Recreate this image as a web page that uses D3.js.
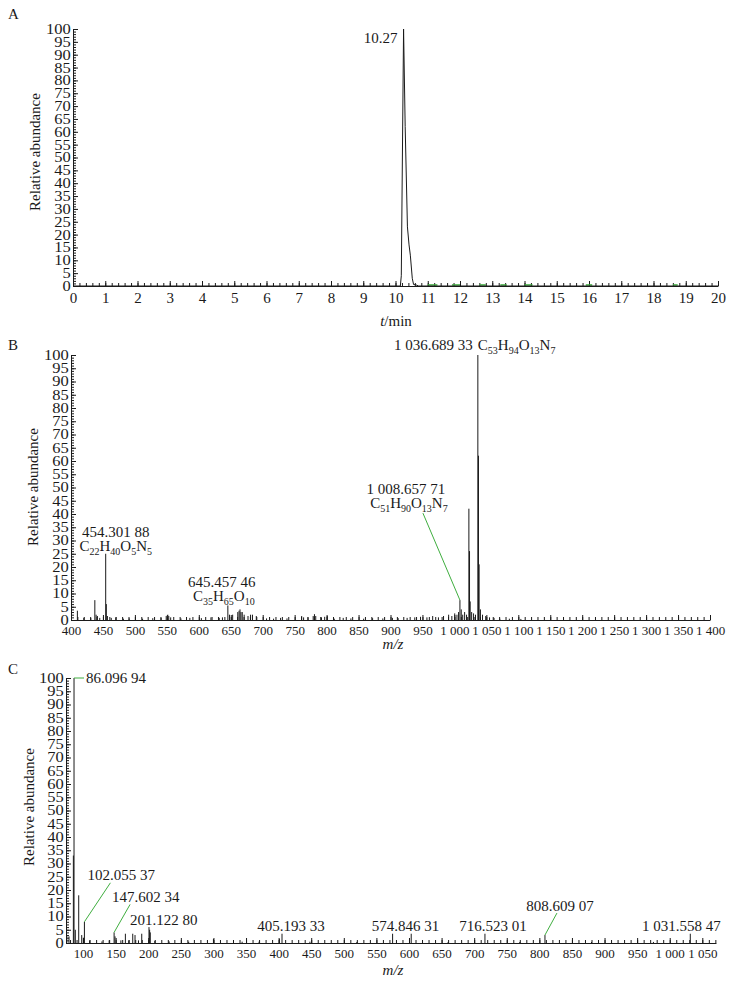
<!DOCTYPE html>
<html>
<head>
<meta charset="utf-8">
<script src="https://cdn.jsdelivr.net/npm/d3@7"></script>
<style>
body { margin: 0; background: #fff; }
svg { font-family: "Liberation Serif", "Times New Roman", serif; }
</style>
</head>
<body>
<script>
// ---- data ----

// panel A: total ion chromatogram
var chromTime  = [0, 10.15, 10.18, 10.25, 10.30, 10.37, 10.42, 10.46, 10.52, 10.56, 10.64, 10.72, 20];
var chromAbund = [0, 0, 4, 100, 62, 23, 16, 12, 3, 0.6, 0.4, 0, 0];
// short green traces lying on the baseline (start, end in min)
var greenStart = [11.0, 11.75, 12.6, 13.25, 14.0, 15.9, 18.6];
var greenEnd   = [11.3, 12.0, 12.8, 13.45, 14.25, 16.1, 18.75];
var peakTimeLabel = '10.27';
var peakTime = 10.25;

// panel B: full MS spectrum
var mzB = [410, 420, 431, 437.3, 439.3, 441.3, 445, 454.3, 455.3, 457, 463, 470, 482, 491, 512, 528, 541, 549,
  551.5, 553, 556, 572, 586, 604, 619, 632, 637, 645.46, 648, 653, 661, 663, 664.5, 666, 668, 671, 677, 681,
  684, 690, 706, 717, 728, 738, 761, 764, 771, 779, 781, 783, 792, 797, 801, 812, 826, 838, 858, 872, 888,
  903, 912, 926, 938, 947, 957, 966, 975, 983, 991, 996, 1000.5, 1004, 1006.5, 1008.66, 1010.7, 1013, 1016,
  1019, 1022.67, 1023.67, 1024.7, 1027, 1030, 1033, 1036.69, 1037.69, 1038.69, 1040.7, 1044, 1049, 1055,
  1062, 1071, 1086, 1104];
var abB = [3.5, 0.8, 0.7, 7.5, 2, 1.5, 0.8, 25, 6, 1.5, 0.8, 1, 0.5, 0.6, 0.5, 0.7, 0.8, 1.5,
  2, 1.5, 1, 0.6, 0.8, 0.7, 1, 0.8, 1, 5.5, 2, 2, 3, 3.5, 4, 3, 3, 2, 1.5, 2,
  2, 1.5, 0.6, 0.5, 0.8, 0.6, 1.5, 1, 1, 1.5, 2.2, 1.5, 1, 1.2, 1.5, 0.5, 0.8, 0.6, 0.5, 0.7, 0.6,
  0.8, 0.7, 0.8, 1, 1.2, 1, 1.5, 1, 1.5, 2, 1.5, 2.5, 2, 3, 7.5, 4, 2, 3,
  2, 42, 26, 7, 3, 2.5, 2, 100, 62, 21, 4, 2, 1.5, 1,
  0.8, 0.5, 0.5, 0.4];
var annBmz      = [454.3, 645.46, 1036.69, 1008.66];
var annBtext    = ['454.301 88', '645.457 46', '1 036.689 33', '1 008.657 71'];
var annBformula = ['C22H40O5N5', 'C35H65O10', 'C53H94O13N7', 'C51H90O13N7'];

// panel C: MS/MS spectrum
var mzC = [75, 78.4, 85.1, 86.1, 88.1, 93.3, 97.9, 100.4, 102.06, 110, 129, 140, 147.6, 149, 158, 164.9, 170,
  176.2, 179.7, 185, 190, 201.12, 202.1, 203.1, 210, 232, 262, 300, 344, 370, 401.2, 405.19, 448, 520,
  574.85, 603.4, 660, 716.52, 770, 808.61, 880, 975, 1031.56];
var abC = [3, 2.5, 33, 100, 5, 18, 3, 2, 8, 1, 0.6, 1, 4, 2.5, 1, 3.5, 1,
  3.5, 3, 1, 3.5, 6, 5, 4, 0.8, 0.6, 0.5, 1.5, 0.5, 0.5, 1.5, 3.5, 0.5, 0.4,
  3.5, 3.5, 0.4, 3.5, 0.4, 3, 0.4, 0.4, 3.5];
var annCmz   = [86.1, 102.06, 147.6, 201.12, 405.19, 574.85, 716.52, 808.61, 1031.56];
var annCtext = ['86.096 94', '102.055 37', '147.602 34', '201.122 80', '405.193 33', '574.846 31',
  '716.523 01', '808.609 07', '1 031.558 47'];

// tick values
var yMajorTicks = d3.range(0, 101, 5);
var yMinorTicks = d3.range(0, 101, 1);
var tMajorTicks = d3.range(0, 21, 1);
var tMinorTicks = d3.range(0, 100.5, 1).map(function(v) { return v / 5; });
var mzBMajor = d3.range(400, 1401, 50);
var mzBMinor = d3.range(400, 1401, 10);
var mzCMajor = d3.range(100, 1051, 50);
var mzCMinor = d3.range(80, 1071, 10);

// ---- drawing ----
var INK = '#1a1a1a';
var GREEN = '#3fae3f';

var svg = d3.select('body').append('svg')
  .attr('width', 740)
  .attr('height', 981);

// "1000" -> "1 000"
function spaced(v) {
  var s = String(v);
  return v >= 1000 ? s.slice(0, -3) + ' ' + s.slice(-3) : s;
}

// writes a chemical formula with subscripted counts into a text element
function formula(textSel, str) {
  var parts = str.match(/[A-Z][a-z]?|\d+/g);
  var sub = false;
  parts.forEach(function(p) {
    var isNum = /^\d+$/.test(p);
    var t = textSel.append('tspan').text(p);
    if (isNum) {
      t.attr('font-size', 10).attr('dy', sub ? 0 : 4);
      sub = true;
    } else {
      t.attr('font-size', 15).attr('dy', sub ? -4 : 0);
      sub = false;
    }
  });
}

// axes with ruler style ticks pointing into the plot
function frame(g, x, y, xMinor, xMajor, fmt, xFont) {
  var y0 = y(0), x0 = x.range()[0];

  g.append('g').attr('transform', 'translate(0,' + y0 + ')')
    .call(d3.axisBottom(x).tickValues(xMinor).tickSize(-3).tickSizeOuter(0).tickFormat(''))
    .call(function(s) { s.select('.domain').remove(); });
  var xa = g.append('g').attr('transform', 'translate(0,' + y0 + ')')
    .call(d3.axisBottom(x).tickValues(xMajor).tickSize(-5).tickSizeOuter(0).tickPadding(6).tickFormat(fmt));

  g.append('g').attr('transform', 'translate(' + x0 + ',0)')
    .call(d3.axisLeft(y).tickValues(yMinorTicks).tickSize(-3).tickSizeOuter(0).tickFormat(''))
    .call(function(s) { s.select('.domain').remove(); });
  var ya = g.append('g').attr('transform', 'translate(' + x0 + ',0)')
    .call(d3.axisLeft(y).tickValues(yMajorTicks).tickSize(-5).tickSizeOuter(0).tickPadding(2).tickFormat(d3.format('d')));

  g.selectAll('.domain, .tick line').attr('stroke', INK).attr('stroke-width', 1);
  g.selectAll('.tick text').attr('fill', INK)
    .attr('font-family', '"Liberation Serif", "Times New Roman", serif');
  xa.selectAll('.tick text').attr('font-size', xFont);
  // the printed y labels are a little wide for their height
  ya.selectAll('.tick text').attr('font-size', 14).attr('transform', 'scale(1.18,1)');
}

function yTitle(g, cx, cy) {
  g.append('text')
    .attr('transform', 'translate(' + cx + ',' + cy + ') rotate(-90)')
    .attr('text-anchor', 'middle')
    .attr('dominant-baseline', 'middle')
    .attr('font-size', 15).attr('fill', INK)
    .text('Relative abundance');
}

function xTitle(g, cx, by, italicPart, rest) {
  var t = g.append('text')
    .attr('x', cx).attr('y', by)
    .attr('text-anchor', 'middle')
    .attr('font-size', 15).attr('fill', INK);
  t.append('tspan').attr('font-style', 'italic').text(italicPart);
  t.append('tspan').text(rest);
}

function letter(txt, by) {
  svg.append('text').attr('x', 8).attr('y', by)
    .attr('font-size', 15).attr('fill', INK).text(txt);
}

function sticks(g, x, y, mz, ab) {
  g.append('g').selectAll('line')
    .data(d3.zip(mz, ab))
    .join('line')
      .attr('x1', function(d) { return x(d[0]); })
      .attr('x2', function(d) { return x(d[0]); })
      .attr('y1', y(0))
      .attr('y2', function(d) { return y(d[1]); })
      .attr('stroke', INK)
      .attr('stroke-width', 1);
}

function leader(g, x1, y1, x2, y2) {
  g.append('line')
    .attr('x1', x1).attr('y1', y1).attr('x2', x2).attr('y2', y2)
    .attr('stroke', GREEN).attr('stroke-width', 1);
}

/////////// PANEL A //////////
(function() {
  var g = svg.append('g');
  var x = d3.scaleLinear().domain([0, 20]).range([73, 718]);
  var y = d3.scaleLinear().domain([0, 100]).range([286, 29]);

  frame(g, x, y, tMinorTicks, tMajorTicks, d3.format('d'), 15);

  var line = d3.line()
    .x(function(d) { return x(d[0]); })
    .y(function(d) { return y(d[1]); });

  g.append('g').selectAll('line')
    .data(d3.zip(greenStart, greenEnd))
    .join('line')
      .attr('x1', function(d) { return x(d[0]); })
      .attr('x2', function(d) { return x(d[1]); })
      .attr('y1', y(0.4)).attr('y2', y(0.4))
      .attr('stroke', GREEN).attr('stroke-width', 1.5);

  g.append('path')
    .datum(d3.zip(chromTime, chromAbund))
    .attr('d', line)
    .attr('fill', 'none')
    .attr('stroke', INK)
    .attr('stroke-width', 1);

  g.append('text')
    .attr('x', x(peakTime) - 6).attr('y', y(100) + 14)
    .attr('text-anchor', 'end')
    .attr('font-size', 15).attr('fill', INK)
    .text(peakTimeLabel);

  yTitle(g, 37, 152);
  xTitle(g, 396, 326, 't', '/min');
  letter('A', 19);
})();

/////////// PANEL B //////////
(function() {
  var g = svg.append('g');
  var x = d3.scaleLinear().domain([400, 1400]).range([71, 710]);
  var y = d3.scaleLinear().domain([0, 100]).range([620, 355]);

  frame(g, x, y, mzBMinor, mzBMajor, spaced, 13);
  sticks(g, x, y, mzB, abB);

  // label placement: [number dx, number dy, formula dx, formula dy, anchor] relative to peak top
  var place = [
    [10, -17, 10, -3, 'middle'],
    [-6, -18, -4, -4, 'middle'],
    [-5, -5, 0, -5, 'inline'],
    [-54, -106, -51, -92, 'middle']
  ];

  annBmz.forEach(function(m, i) {
    var px = x(m), py = y(abB[mzB.indexOf(m)]);
    var p = place[i];
    g.append('text')
      .attr('x', px + p[0]).attr('y', py + p[1])
      .attr('font-size', 15).attr('fill', INK)
      .attr('text-anchor', p[4] == 'inline' ? 'end' : 'middle')
      .text(annBtext[i]);
    var f = g.append('text')
      .attr('x', px + p[2]).attr('y', py + p[3])
      .attr('font-size', 15).attr('fill', INK)
      .attr('text-anchor', p[4] == 'inline' ? 'start' : 'middle');
    formula(f, annBformula[i]);
    if (i == 3) leader(g, px - 37, py - 87, px, py);
  });

  yTitle(g, 35, 487);
  xTitle(g, 393, 649, 'm/z', '');
  letter('B', 350);
})();

/////////// PANEL C //////////
(function() {
  var g = svg.append('g');
  var x = d3.scaleLinear().domain([73.8, 1071]).range([66, 716]);
  var y = d3.scaleLinear().domain([0, 100]).range([943, 678]);

  frame(g, x, y, mzCMinor, mzCMajor, spaced, 13);
  sticks(g, x, y, mzC, abC);

  // [text dx, text dy ('row' = common baseline), anchor, leader end dx, leader end dy]
  var place = [
    [12, 5, 'start', 10, 0],
    [3, -42, 'start', 26, -39],
    [-2, -30, 'start', 16, -28],
    [-19, -2, 'start', null, null],
    [9, 'row', 'middle', null, null],
    [13, 'row', 'middle', null, null],
    [8, 'row', 'middle', null, null],
    [15, -24, 'middle', 12, -22],
    [-9, 'row', 'middle', null, null]
  ];
  var rowBase = y(0) - 12;

  annCmz.forEach(function(m, i) {
    var px = x(m), py = y(abC[mzC.indexOf(m)]);
    var p = place[i];
    var ty = p[1] == 'row' ? rowBase : py + p[1];
    g.append('text')
      .attr('x', px + p[0]).attr('y', ty)
      .attr('text-anchor', p[2])
      .attr('font-size', 15).attr('fill', INK)
      .text(annCtext[i]);
    if (p[3] != null) leader(g, px, py, px + p[3], py + p[4]);
  });

  yTitle(g, 31, 807);
  xTitle(g, 393, 975, 'm/z', '');
  letter('C', 674);
})();
</script>
</body>
</html>
